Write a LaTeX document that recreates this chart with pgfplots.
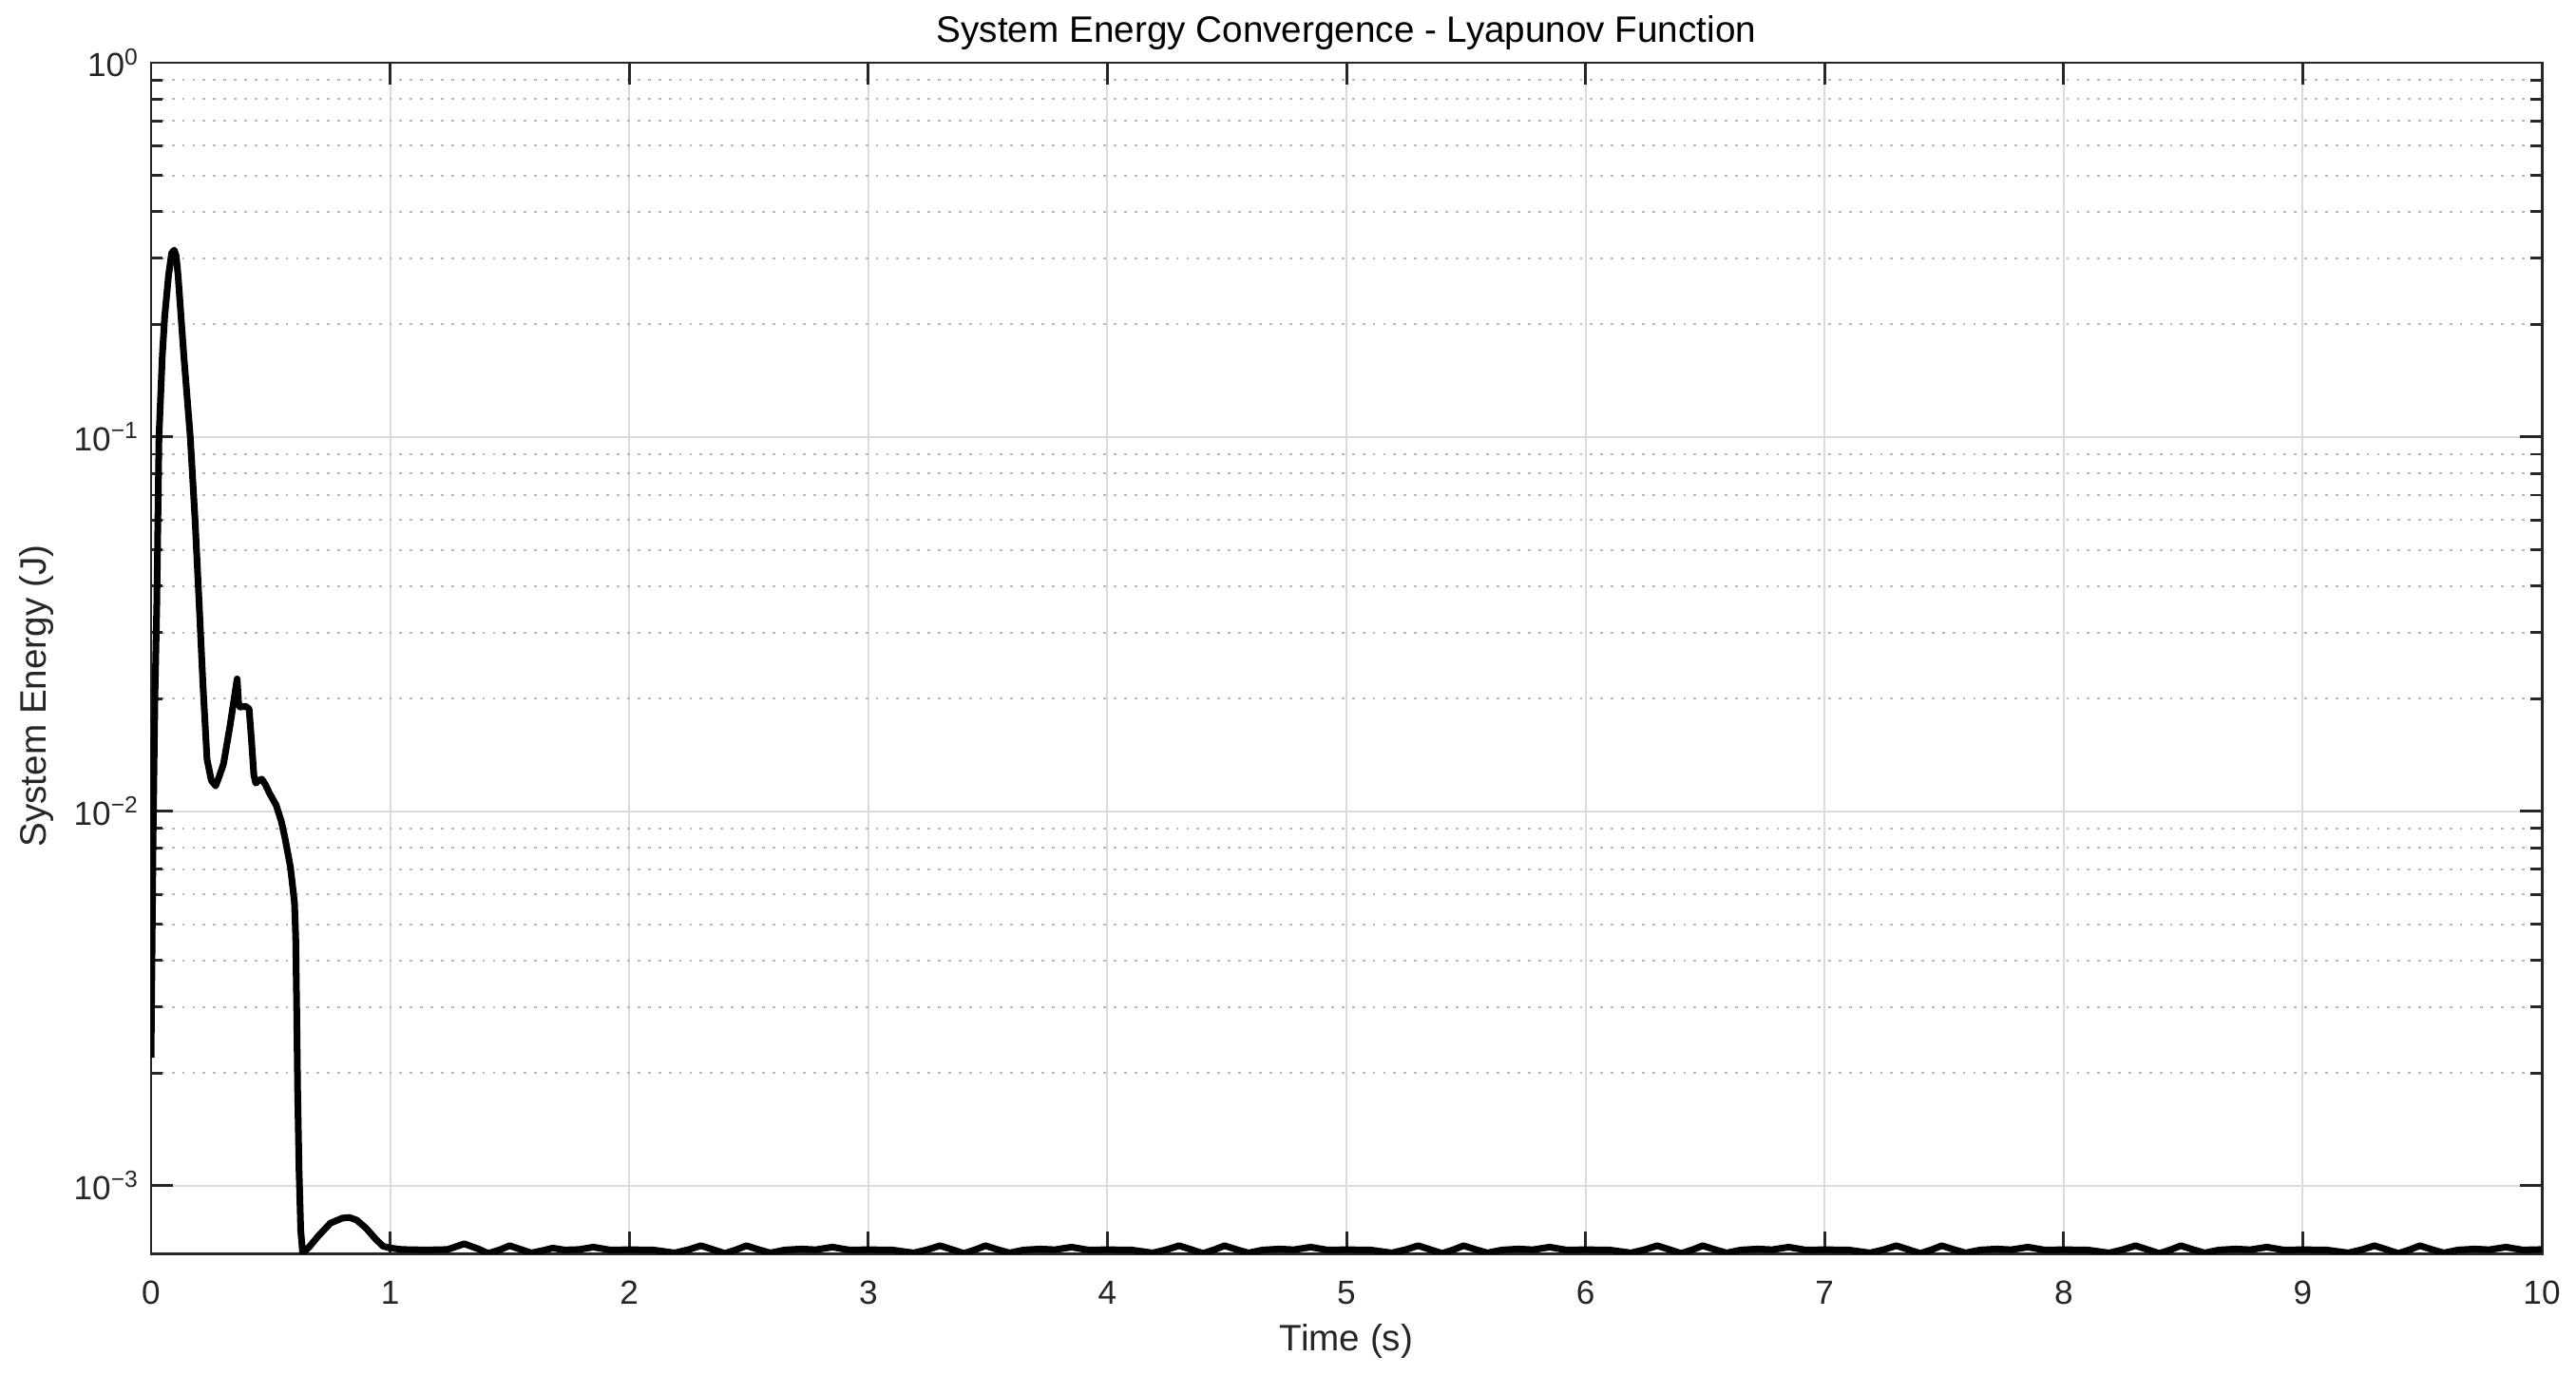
\documentclass[border=0pt]{standalone}
\usepackage{pgfplots}
\pgfplotsset{compat=1.18}
\usepackage{fontspec}
\setmainfont{Liberation Sans}

\definecolor{axgray}{gray}{0.15}
\definecolor{majgrid}{gray}{0.86}
\definecolor{mingrid}{gray}{0.72}

\begin{document}
\begin{tikzpicture}
\path[use as bounding box] (-1.59cm,-1.27cm) rectangle (25.52cm,13.19cm);
\begin{axis}[
    at={(0,0)}, anchor=south west,
    scale only axis,
    width=25.16cm,
    height=12.53cm,
    xmin=0, xmax=10,
    ymode=log,
    ymin=6.6e-4, ymax=1,
    xtick={0,1,...,10},
    ytick={1e-3,1e-2,1e-1,1},
    yticklabels={10\textsuperscript{−3},10\textsuperscript{−2},10\textsuperscript{−1},10\textsuperscript{0}},
    /pgf/number format/assume math mode=true,
    tick align=inside,
    major tick length=0.23cm,
    minor tick length=0.12cm,
    axis line style={axgray, line width=0.85pt},
    every tick/.style={axgray, line width=0.85pt},
    grid=both,
    major grid style={majgrid, line width=0.55pt},
    minor grid style={mingrid, line width=0.55pt, dash pattern=on 0.8pt off 2.3pt},
    tick label style={font=\fontsize{10}{12}\selectfont, text=axgray},
    xticklabel style={yshift=-0.17cm},
    every axis title shift=0pt,
    title={System Energy Convergence - Lyapunov Function},
    title style={font=\fontsize{11}{13}\selectfont, at={(axis description cs:0.5,1.0255)}, anchor=center},
    xlabel={Time (s)},
    xlabel style={font=\fontsize{11}{13}\selectfont, text=axgray, at={(axis description cs:0.5,-0.074)}, anchor=center},
    ylabel={System Energy (J)},
    ylabel style={font=\fontsize{11}{13}\selectfont, text=axgray, at={(axis description cs:-0.048,0.468)}, anchor=center, rotate=0},
    clip=true,
]

\addplot[black, line width=2pt, line join=round] coordinates {
    (0.000,2.2e-3) (0.008,8.0e-3) (0.016,0.020) (0.024,0.036)
    (0.033,0.100) (0.047,0.165) (0.057,0.210) (0.073,0.270)
    (0.086,0.310) (0.097,0.316) (0.105,0.305) (0.113,0.270)
    (0.137,0.165) (0.164,0.100) (0.184,0.060) (0.201,0.036)
    (0.217,0.0218) (0.234,0.0138) (0.252,0.0121) (0.270,0.0117)
    (0.285,0.0124) (0.303,0.0134) (0.330,0.0169) (0.360,0.0226)
    (0.366,0.0195) (0.372,0.0190) (0.395,0.0191) (0.410,0.0188)
    (0.420,0.0155) (0.430,0.0125) (0.438,0.0119) (0.450,0.0121)
    (0.463,0.0122) (0.478,0.0118) (0.495,0.0112) (0.523,0.0104)
    (0.545,0.0094) (0.560,0.0085) (0.583,0.0071) (0.600,0.0057)
    (0.605,0.0046) (0.609,0.0030) (0.613,0.0018) (0.619,0.0011)
    (0.626,7.6e-4) (0.634,6.62e-4) (0.660,6.85e-4) (0.700,7.35e-4)
    (0.750,7.95e-4) (0.800,8.2e-4) (0.830,8.23e-4) (0.860,8.1e-4)
    (0.900,7.7e-4) (0.940,7.2e-4) (0.970,6.9e-4) (1.000,6.82e-4)
    (1.05,6.76e-4) (1.15,6.74e-4) (1.24,6.76e-4) (1.31,7.0e-4) (1.37,6.78e-4) (1.41,6.6e-4) (1.46,6.75e-4) (1.50,6.92e-4)
    (1.55,6.75e-4) (1.59,6.62e-4) (1.64,6.72e-4) (1.68,6.82e-4) (1.73,6.74e-4) (1.79,6.76e-4) (1.85,6.86e-4) (1.92,6.74e-4)
    (2.00,6.75e-4) (2.10,6.74e-4) (2.19,6.62e-4) (2.25,6.76e-4) (2.30,6.92e-4) (2.35,6.76e-4) (2.40,6.6e-4) (2.45,6.76e-4)
    (2.49,6.92e-4) (2.54,6.76e-4) (2.59,6.62e-4) (2.65,6.74e-4) (2.72,6.78e-4) (2.78,6.75e-4) (2.85,6.86e-4) (2.92,6.74e-4)
    (3.00,6.75e-4) (3.10,6.74e-4) (3.19,6.62e-4) (3.25,6.76e-4) (3.30,6.92e-4) (3.35,6.76e-4) (3.40,6.6e-4) (3.45,6.76e-4)
    (3.49,6.92e-4) (3.54,6.76e-4) (3.59,6.62e-4) (3.65,6.74e-4) (3.72,6.78e-4) (3.78,6.75e-4) (3.85,6.86e-4) (3.92,6.74e-4)
    (4.00,6.75e-4) (4.10,6.74e-4) (4.19,6.62e-4) (4.25,6.76e-4) (4.30,6.92e-4) (4.35,6.76e-4) (4.40,6.6e-4) (4.45,6.76e-4)
    (4.49,6.92e-4) (4.54,6.76e-4) (4.59,6.62e-4) (4.65,6.74e-4) (4.72,6.78e-4) (4.78,6.75e-4) (4.85,6.86e-4) (4.92,6.74e-4)
    (5.00,6.75e-4) (5.10,6.74e-4) (5.19,6.62e-4) (5.25,6.76e-4) (5.30,6.92e-4) (5.35,6.76e-4) (5.40,6.6e-4) (5.45,6.76e-4)
    (5.49,6.92e-4) (5.54,6.76e-4) (5.59,6.62e-4) (5.65,6.74e-4) (5.72,6.78e-4) (5.78,6.75e-4) (5.85,6.86e-4) (5.92,6.74e-4)
    (6.00,6.75e-4) (6.10,6.74e-4) (6.19,6.62e-4) (6.25,6.76e-4) (6.30,6.92e-4) (6.35,6.76e-4) (6.40,6.6e-4) (6.45,6.76e-4)
    (6.49,6.92e-4) (6.54,6.76e-4) (6.59,6.62e-4) (6.65,6.74e-4) (6.72,6.78e-4) (6.78,6.75e-4) (6.85,6.86e-4) (6.92,6.74e-4)
    (7.00,6.75e-4) (7.10,6.74e-4) (7.19,6.62e-4) (7.25,6.76e-4) (7.30,6.92e-4) (7.35,6.76e-4) (7.40,6.6e-4) (7.45,6.76e-4)
    (7.49,6.92e-4) (7.54,6.76e-4) (7.59,6.62e-4) (7.65,6.74e-4) (7.72,6.78e-4) (7.78,6.75e-4) (7.85,6.86e-4) (7.92,6.74e-4)
    (8.00,6.75e-4) (8.10,6.74e-4) (8.19,6.62e-4) (8.25,6.76e-4) (8.30,6.92e-4) (8.35,6.76e-4) (8.40,6.6e-4) (8.45,6.76e-4)
    (8.49,6.92e-4) (8.54,6.76e-4) (8.59,6.62e-4) (8.65,6.74e-4) (8.72,6.78e-4) (8.78,6.75e-4) (8.85,6.86e-4) (8.92,6.74e-4)
    (9.00,6.75e-4) (9.10,6.74e-4) (9.19,6.62e-4) (9.25,6.76e-4) (9.30,6.92e-4) (9.35,6.76e-4) (9.40,6.6e-4) (9.45,6.76e-4)
    (9.49,6.92e-4) (9.54,6.76e-4) (9.59,6.62e-4) (9.65,6.74e-4) (9.72,6.78e-4) (9.78,6.75e-4) (9.85,6.86e-4) (9.92,6.74e-4)
    (10.00,6.76e-4)
};

\end{axis}
\end{tikzpicture}
\end{document}
